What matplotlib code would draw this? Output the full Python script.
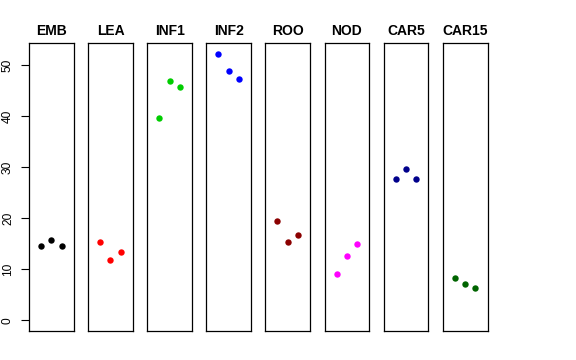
import matplotlib
matplotlib.use("Agg")
import matplotlib.pyplot as plt

plt.rcParams["font.family"] = ["Liberation Sans", "DejaVu Sans"]

tissues = ["EMB", "LEA", "INF1", "INF2", "ROO", "NOD", "CAR5", "CAR15"]
colors = ["#000000", "#FF0000", "#00CD00", "#0000FF",
          "#8B0000", "#FF00FF", "#00008B", "#006400"]

emb = [14.6, 15.7, 14.5]
lea = [15.4, 11.8, 13.4]
inf1 = [39.7, 46.8, 45.6]
inf2 = [52.2, 48.8, 47.3]
roo = [19.5, 15.4, 16.8]
nod = [9.0, 12.5, 15.0]
car5 = [27.7, 29.7, 27.7]
car15 = [8.2, 7.1, 6.4]
series = [emb, lea, inf1, inf2, roo, nod, car5, car15]
reps = [1, 2, 3]
yticks = [0, 10, 20, 30, 40, 50]

W, H = 576, 360
fig = plt.figure(figsize=(W / 100, H / 100), dpi=100)

ymax = max(max(s) for s in series)
ypad = 0.04 * ymax
xpad = 0.04 * 4

for i, (name, vals, col) in enumerate(zip(tissues, series, colors)):
    left = 29 + i * 59.1
    ax = fig.add_axes([left / W, (H - 331) / H, 44.8 / W, (331 - 43) / H])
    ax.plot(reps, vals, "o", color=col, ms=4.6, mec="none")
    ax.set_xlim(0 - xpad, 4 + xpad)
    ax.set_ylim(0 - ypad, ymax + ypad)
    ax.set_xticks([])
    for sp in ax.spines.values():
        sp.set_linewidth(0.9)
    ax.set_title(name, fontsize=10, fontweight="bold", pad=6)
    if i == 0:
        ax.set_yticks(yticks)
        ax.set_yticklabels([str(t) for t in yticks], rotation=90, va="center")
        ax.tick_params(axis="y", length=5.8, width=0.8, pad=5, labelsize=8.6)
    else:
        ax.set_yticks([])

fig.savefig("out.png", dpi=100)
